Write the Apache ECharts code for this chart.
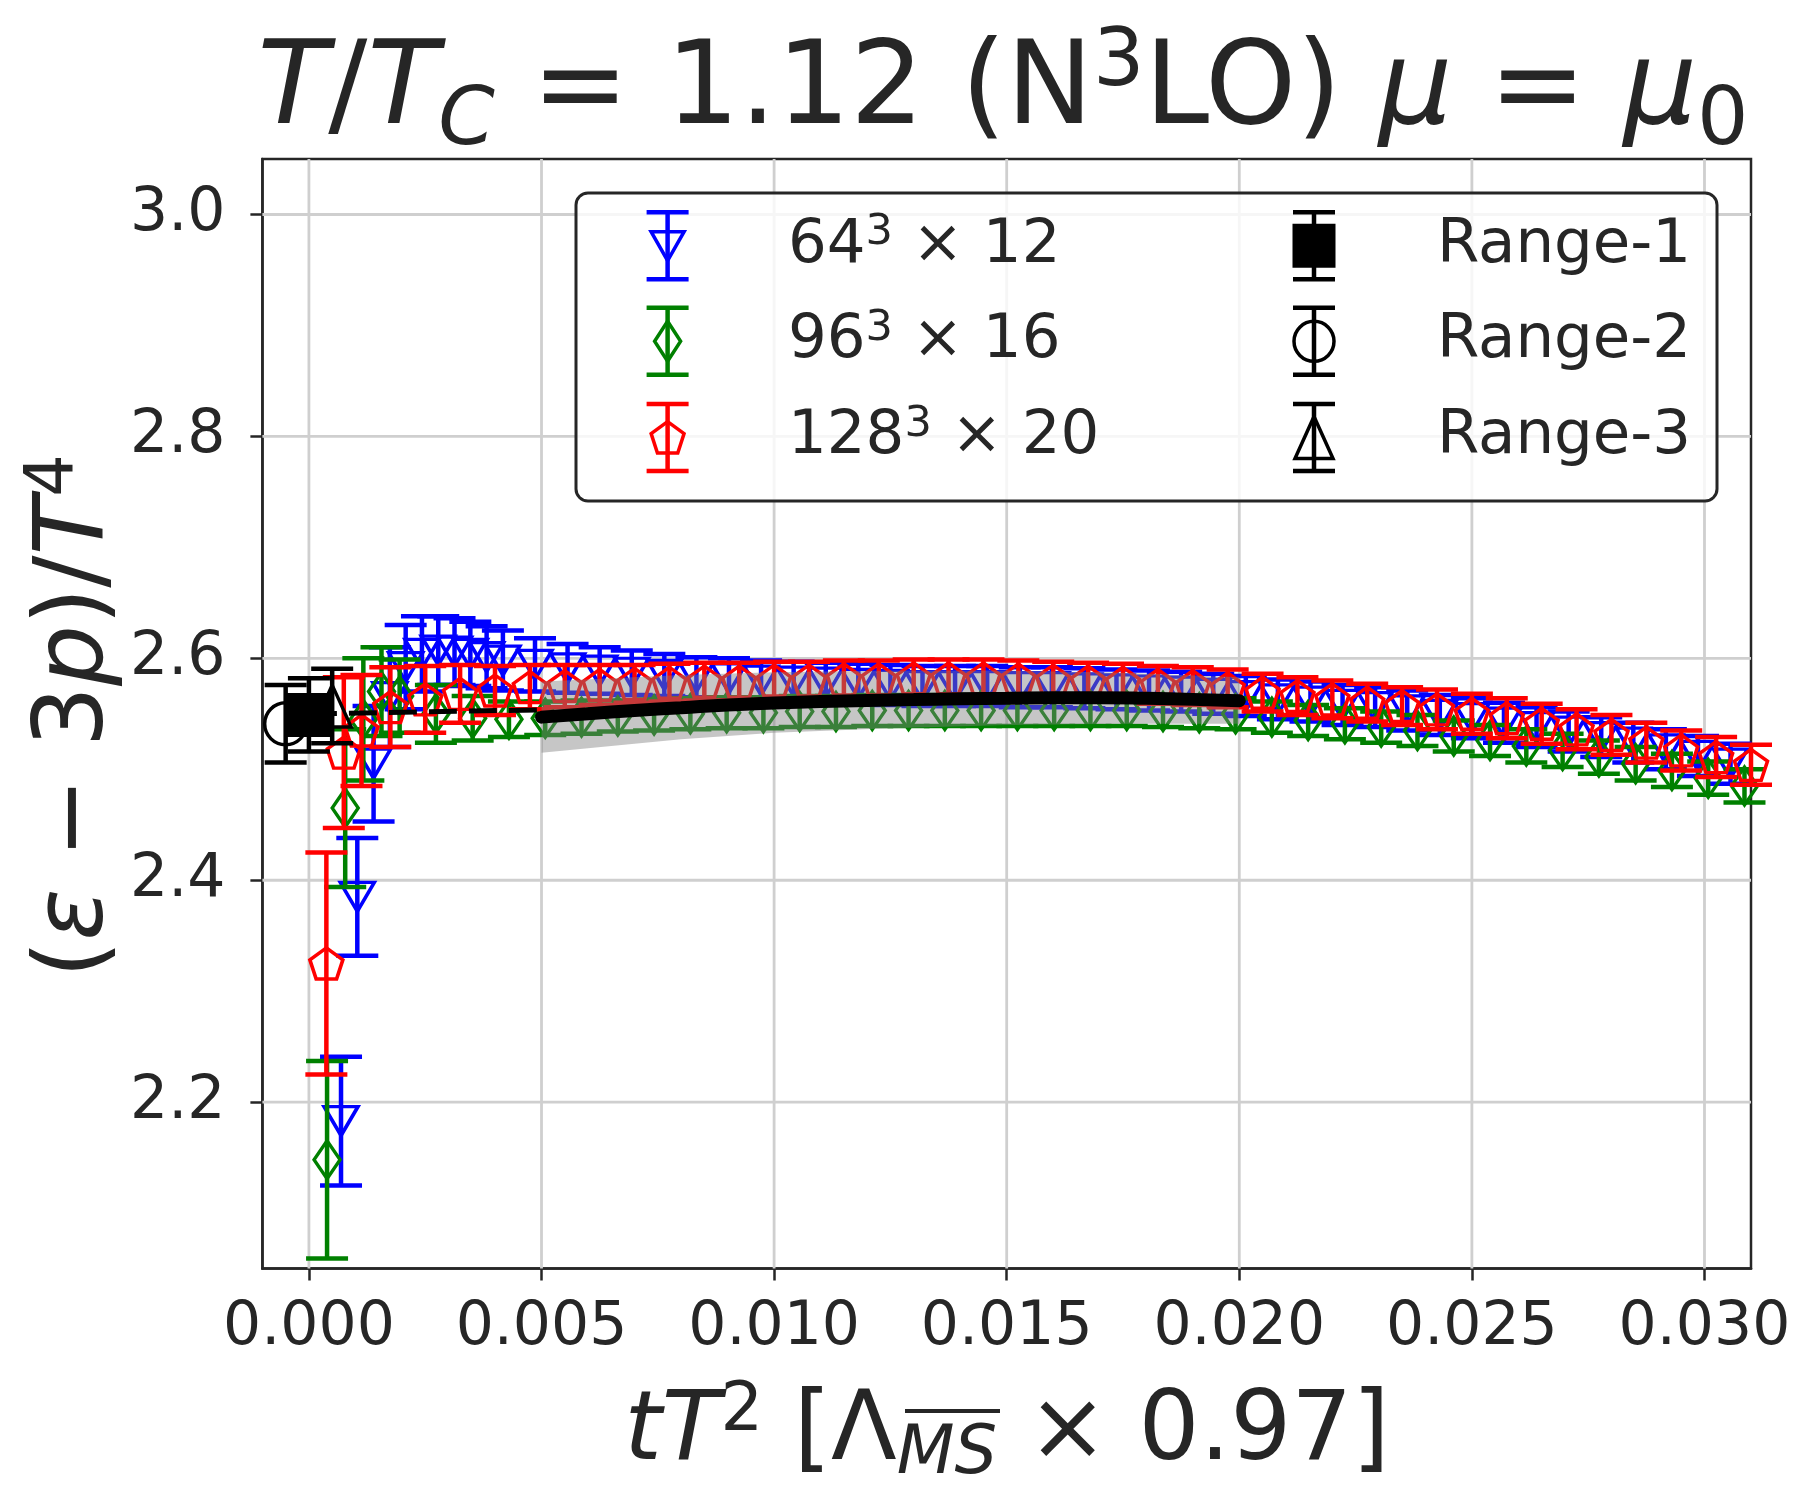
<!DOCTYPE html>
<html>
<head>
<meta charset="utf-8">
<script src="https://cdn.jsdelivr.net/npm/echarts@6/dist/echarts.min.js"></script>
<style>
  html, body { margin: 0; padding: 0; background: #fff; }
  #chart { width: 1803px; height: 1502px; }
</style>
</head>
<body>
<div id="chart"></div>
<script>
// tick labels
const xTicks = [0, 0.005, 0.01, 0.015, 0.02, 0.025, 0.03]
const yTicks = [2.2, 2.4, 2.6, 2.8, 3.0]

// 64^3 x 12
const blueX = [0.00069, 0.00104, 0.00139, 0.00174, 0.00208, 0.00243, 0.00278, 0.00313, 0.00347, 0.00382,
  0.00417, 0.00486, 0.00556, 0.00625, 0.00694, 0.00764, 0.00833, 0.00903, 0.00972, 0.01042,
  0.01111, 0.01181, 0.0125, 0.01319, 0.01389, 0.01458, 0.01528, 0.01597, 0.01667, 0.01736,
  0.01806, 0.01875, 0.01944, 0.02014, 0.02083, 0.02153, 0.02222, 0.02292, 0.02361, 0.02431,
  0.025, 0.02569, 0.02639, 0.02708, 0.02778, 0.02847, 0.02917, 0.02986, 0.03056]
const blueY = [2.183, 2.385, 2.505, 2.565, 2.592, 2.604, 2.607, 2.606, 2.604, 2.601,
  2.598, 2.594, 2.591, 2.589, 2.587, 2.585, 2.583, 2.582, 2.580, 2.579,
  2.578, 2.577, 2.576, 2.575, 2.575, 2.575, 2.574, 2.574, 2.573, 2.572,
  2.571, 2.570, 2.568, 2.566, 2.563, 2.561, 2.558, 2.556, 2.553, 2.549,
  2.546, 2.542, 2.538, 2.534, 2.529, 2.524, 2.518, 2.512, 2.505]
const blueErr = [0.058, 0.053, 0.052, 0.045, 0.038, 0.034, 0.031, 0.030, 0.029, 0.028,
  0.027, 0.024, 0.022, 0.021, 0.020, 0.019, 0.018, 0.018, 0.018, 0.018,
  0.018, 0.018, 0.018, 0.018, 0.018, 0.018, 0.018, 0.018, 0.018, 0.018,
  0.018, 0.018, 0.018, 0.018, 0.018, 0.018, 0.018, 0.018, 0.018, 0.018,
  0.018, 0.018, 0.018, 0.018, 0.018, 0.018, 0.018, 0.018, 0.018]

// 96^3 x 16
const greenX = [0.00039, 0.00078, 0.00117, 0.00156, 0.00195, 0.00273, 0.00352, 0.0043, 0.00508, 0.00586,
  0.00664, 0.00742, 0.0082, 0.00898, 0.00977, 0.01055, 0.01133, 0.01211, 0.01289, 0.01367,
  0.01445, 0.01523, 0.01602, 0.0168, 0.01758, 0.01836, 0.01914, 0.01992, 0.0207, 0.02148,
  0.02227, 0.02305, 0.02383, 0.02461, 0.02539, 0.02617, 0.02695, 0.02773, 0.02852, 0.0293,
  0.03008, 0.03086]
const greenY = [2.148, 2.465, 2.545, 2.570, 2.566, 2.550, 2.546, 2.545, 2.546, 2.547,
  2.548, 2.549, 2.550, 2.551, 2.551, 2.552, 2.552, 2.553, 2.553, 2.553,
  2.553, 2.553, 2.553, 2.553, 2.553, 2.552, 2.551, 2.550, 2.547, 2.544,
  2.541, 2.538, 2.535, 2.530, 2.526, 2.521, 2.517, 2.511, 2.505, 2.499,
  2.492, 2.485]
const greenErr = [0.089, 0.071, 0.055, 0.040, 0.033, 0.026, 0.020, 0.016, 0.015, 0.015,
  0.014, 0.014, 0.014, 0.014, 0.014, 0.014, 0.014, 0.014, 0.014, 0.014,
  0.014, 0.014, 0.014, 0.014, 0.014, 0.014, 0.014, 0.014, 0.014, 0.014,
  0.014, 0.014, 0.014, 0.014, 0.014, 0.015, 0.015, 0.015, 0.015, 0.015,
  0.015, 0.015]

// 128^3 x 20
const redX = [0.000375, 0.00075, 0.00113, 0.00175, 0.0025, 0.00325, 0.004, 0.00475, 0.0055, 0.00625,
  0.007, 0.00775, 0.0085, 0.00925, 0.01, 0.01075, 0.0115, 0.01225, 0.013, 0.01375,
  0.0145, 0.01525, 0.016, 0.01675, 0.0175, 0.01825, 0.019, 0.01975, 0.0205, 0.02125,
  0.022, 0.02275, 0.0235, 0.02425, 0.025, 0.02575, 0.0265, 0.02725, 0.028, 0.02875,
  0.0295, 0.03025, 0.031]
const redY = [2.325, 2.515, 2.535, 2.556, 2.563, 2.568, 2.571, 2.574, 2.575, 2.576,
  2.577, 2.578, 2.579, 2.579, 2.580, 2.580, 2.581, 2.581, 2.582, 2.582,
  2.582, 2.581, 2.580, 2.579, 2.578, 2.576, 2.575, 2.573, 2.569, 2.566,
  2.563, 2.560, 2.557, 2.554, 2.550, 2.546, 2.541, 2.536, 2.531, 2.524,
  2.517, 2.511, 2.504]
const redErr = [0.100, 0.068, 0.050, 0.036, 0.030, 0.026, 0.022, 0.020, 0.019, 0.018,
  0.017, 0.017, 0.017, 0.017, 0.017, 0.017, 0.017, 0.017, 0.017, 0.017,
  0.017, 0.017, 0.017, 0.017, 0.017, 0.017, 0.017, 0.017, 0.017, 0.017,
  0.017, 0.017, 0.017, 0.018, 0.018, 0.018, 0.018, 0.018, 0.018, 0.018,
  0.018, 0.018, 0.018]

// continuum values: Range-1, Range-2, Range-3
const range1 = [0.0, 2.549, 0.033]
const range2 = [-0.0005, 2.541, 0.035]
const range3 = [0.0005, 2.557, 0.0335]

// fit curve with band, and dashed extrapolation
const fitX = [0.005, 0.006, 0.007, 0.008, 0.009, 0.010, 0.011, 0.012, 0.013, 0.014, 0.015, 0.016, 0.017, 0.018, 0.019, 0.020]
const fitY = [2.547, 2.550, 2.553, 2.5555, 2.558, 2.5597, 2.561, 2.562, 2.5628, 2.5635, 2.564, 2.5645, 2.5645, 2.564, 2.563, 2.5618]
const bandX = [0.005, 0.0065, 0.008, 0.010, 0.0125, 0.015, 0.0175, 0.020]
const bandLo = [2.515, 2.521, 2.527, 2.533, 2.537, 2.540, 2.541, 2.541]
const bandHi = [2.579, 2.582, 2.585, 2.5875, 2.589, 2.589, 2.587, 2.583]
const dashX = [0.0, 0.005]
const dashY = [2.5498, 2.5536]

const X_MIN = -0.001
const X_MAX = 0.031
const Y_MIN = 2.05
const Y_MAX = 3.05

const INK = "#262626"
const FONT = "DejaVu Sans"
const CAP = 21
const PENTAGON = "path://M0,-1L0.951,-0.309L0.588,0.809L-0.588,0.809L-0.951,-0.309Z"

const chart = echarts.init(document.getElementById("chart"))

function rows(xs, ys, es) {
  return xs.map((x, i) => [x, ys[i], es[i]])
}

function errorBars(color) {
  return function (params, api) {
    const x = api.value(0)
    const y = api.value(1)
    const e = api.value(2)
    const hi = api.coord([x, y + e])
    const lo = api.coord([x, y - e])
    const style = { stroke: color, lineWidth: 4.5, fill: null }
    return {
      type: "group",
      children: [
        { type: "line", shape: { x1: hi[0], y1: hi[1], x2: lo[0], y2: lo[1] }, style },
        { type: "line", shape: { x1: hi[0] - CAP, y1: hi[1], x2: hi[0] + CAP, y2: hi[1] }, style },
        { type: "line", shape: { x1: lo[0] - CAP, y1: lo[1], x2: lo[0] + CAP, y2: lo[1] }, style }
      ]
    }
  }
}

function barSeries(data, color, z) {
  return { type: "custom", data, z, silent: true, encode: { x: 0, y: 1 }, renderItem: errorBars(color) }
}

function markerSeries(data, symbol, size, color, z, extra) {
  return Object.assign({
    type: "scatter",
    data: data.map(r => [r[0], r[1]]),
    symbol,
    symbolSize: size,
    z,
    silent: true,
    itemStyle: { color: "rgba(0,0,0,0)", borderColor: color, borderWidth: 3.5, opacity: 1 }
  }, extra || {})
}

function gridLines() {
  const data = xTicks.map(v => [v, Y_MIN, 0]).concat(yTicks.map(v => [X_MIN, v, 1]))
  return {
    type: "custom",
    z: 1,
    silent: true,
    data,
    encode: { x: 0, y: 1 },
    renderItem(params, api) {
      const vertical = api.value(2) === 0
      const a = vertical ? api.coord([api.value(0), Y_MIN]) : api.coord([X_MIN, api.value(1)])
      const b = vertical ? api.coord([api.value(0), Y_MAX]) : api.coord([X_MAX, api.value(1)])
      return { type: "line", shape: { x1: a[0], y1: a[1], x2: b[0], y2: b[1] }, style: { stroke: "#cfcfcf", lineWidth: 2.8 } }
    }
  }
}

function bandSeries() {
  return {
    type: "custom",
    z: 8,
    silent: true,
    data: [[bandX[0], bandLo[0]]],
    encode: { x: 0, y: 1 },
    renderItem(params, api) {
      const pts = []
      bandX.forEach((x, i) => pts.push(api.coord([x, bandHi[i]])))
      for (let i = bandX.length - 1; i >= 0; i--) pts.push(api.coord([bandX[i], bandLo[i]]))
      return { type: "polygon", shape: { points: pts }, style: { fill: "rgba(128,128,128,0.45)" } }
    }
  }
}

// legend drawn by hand (error bar icons)
function pentagonPoints(cx, cy, r) {
  const pts = []
  for (let k = 0; k < 5; k++) {
    const a = -Math.PI / 2 + k * 2 * Math.PI / 5
    pts.push([cx + r * Math.cos(a), cy + r * Math.sin(a)])
  }
  return pts
}

function legendBar(cx, cy, color) {
  const s = { stroke: color, lineWidth: 4.5 }
  return [
    { type: "line", z: 101, shape: { x1: cx, y1: cy - 33.5, x2: cx, y2: cy + 33.5 }, style: s },
    { type: "line", z: 101, shape: { x1: cx - CAP, y1: cy - 33.5, x2: cx + CAP, y2: cy - 33.5 }, style: s },
    { type: "line", z: 101, shape: { x1: cx - CAP, y1: cy + 33.5, x2: cx + CAP, y2: cy + 33.5 }, style: s }
  ]
}

const legendRich = {
  n: { fontFamily: FONT, fontSize: 61, lineHeight: 68, fill: INK },
  sup: { fontFamily: FONT, fontSize: 43, lineHeight: 29, verticalAlign: "top", fill: INK }
}

function legendText(x, y, text) {
  return { type: "text", z: 101, x, y, style: { text, rich: legendRich, align: "left", verticalAlign: "middle", fill: INK } }
}

const rowY = [245.7, 341.3, 437.5]
const iconL = 667.6
const iconR = 1314

const legend = [
  { type: "rect", z: 100, shape: { x: 576, y: 193, width: 1141, height: 308, r: 12 },
    style: { fill: "rgba(255,255,255,0.8)", stroke: INK, lineWidth: 3 } },
  ...legendBar(iconL, rowY[0], "#0000ff"),
  { type: "polygon", z: 102, shape: { points: [[iconL - 16.5, rowY[0] - 14], [iconL + 16.5, rowY[0] - 14], [iconL, rowY[0] + 15]] },
    style: { fill: null, stroke: "#0000ff", lineWidth: 3.5 } },
  ...legendBar(iconL, rowY[1], "#008000"),
  { type: "polygon", z: 102, shape: { points: [[iconL, rowY[1] - 20], [iconL + 13, rowY[1]], [iconL, rowY[1] + 20], [iconL - 13, rowY[1]]] },
    style: { fill: null, stroke: "#008000", lineWidth: 3.5 } },
  ...legendBar(iconL, rowY[2], "#ff0000"),
  { type: "polygon", z: 102, shape: { points: pentagonPoints(iconL, rowY[2] + 1.5, 17.3) },
    style: { fill: null, stroke: "#ff0000", lineWidth: 3.5 } },
  ...legendBar(iconR, rowY[0], "#000000"),
  { type: "rect", z: 102, shape: { x: iconR - 21.5, y: rowY[0] - 22, width: 43, height: 44 }, style: { fill: "#000000" } },
  ...legendBar(iconR, rowY[1], "#000000"),
  { type: "circle", z: 102, shape: { cx: iconR, cy: rowY[1], r: 20 }, style: { fill: null, stroke: "#000000", lineWidth: 3.5 } },
  ...legendBar(iconR, rowY[2], "#000000"),
  { type: "polygon", z: 102, shape: { points: [[iconR, rowY[2] - 21], [iconR + 19, rowY[2] + 21], [iconR - 19, rowY[2] + 21]] },
    style: { fill: null, stroke: "#000000", lineWidth: 3.5 } },
  legendText(788, rowY[0], "{n|64}{sup|3}{n| \u00d7 12}"),
  legendText(788, rowY[1], "{n|96}{sup|3}{n| \u00d7 16}"),
  legendText(788, rowY[2], "{n|128}{sup|3}{n| \u00d7 20}"),
  legendText(1437, rowY[0], "{n|Range-1}"),
  legendText(1437, rowY[1], "{n|Range-2}"),
  legendText(1437, rowY[2], "{n|Range-3}")
]

const titleRich = {
  n: { fontFamily: FONT, fontSize: 116, lineHeight: 140, fill: INK },
  it: { fontFamily: FONT, fontStyle: "italic", fontSize: 116, lineHeight: 140, fill: INK },
  subI: { fontFamily: FONT, fontStyle: "italic", fontSize: 81, lineHeight: 92, verticalAlign: "bottom", fill: INK },
  sub: { fontFamily: FONT, fontSize: 81, lineHeight: 92, verticalAlign: "bottom", fill: INK },
  sup: { fontFamily: FONT, fontSize: 81, lineHeight: 80, verticalAlign: "top", fill: INK }
}

const labelRich = {
  n: { fontFamily: FONT, fontSize: 96, lineHeight: 110, fill: INK },
  it: { fontFamily: FONT, fontStyle: "italic", fontSize: 96, lineHeight: 110, fill: INK },
  subI: { fontFamily: FONT, fontStyle: "italic", fontSize: 67, lineHeight: 59, verticalAlign: "bottom", fill: INK },
  sup: { fontFamily: FONT, fontSize: 67, lineHeight: 51, verticalAlign: "top", fill: INK }
}

const texts = [
  { type: "text", z: 100, x: 1003, y: 93,
    style: { text: "{it|T}{n|/}{it|T}{subI|C}{n| = 1.12 (N}{sup|3}{n|LO) }{it|\u03bc}{n| = }{it|\u03bc}{sub|0}",
      rich: titleRich, align: "center", verticalAlign: "middle", fill: INK } },
  { type: "text", z: 100, x: 1007, y: 1434,
    style: { text: "{it|tT}{sup|2}{n| [\u039b}{subI|MS}{n| \u00d7 0.97]}",
      rich: labelRich, align: "center", verticalAlign: "middle", fill: INK } },
  // overline of the MS subscript
  { type: "line", z: 100, shape: { x1: 905, y1: 1411, x2: 1000, y2: 1411 }, style: { stroke: INK, lineWidth: 4 } },
  { type: "text", z: 100, x: 77, y: 716, rotation: Math.PI / 2,
    style: { text: "{n|(}{it|\u03b5}{n| \u2212 3}{it|p}{n|)/}{it|T}{sup|4}",
      rich: labelRich, align: "center", verticalAlign: "middle", fill: INK } }
]

const axisCommon = {
  type: "value",
  axisLine: { show: true, onZero: false, lineStyle: { color: INK, width: 2.5 } },
  splitLine: { show: false }
}

const option = {
  animation: false,
  backgroundColor: "#ffffff",
  grid: { left: 262.4, right: 52, top: 159, bottom: 233.4, show: true, borderColor: INK, borderWidth: 2.5,
    backgroundColor: "transparent", outerBoundsMode: "none" },
  xAxis: Object.assign({}, axisCommon, {
    min: X_MIN, max: X_MAX,
    axisTick: { show: true, customValues: xTicks, length: 12, lineStyle: { color: INK, width: 2.5 } },
    axisLabel: { customValues: xTicks, formatter: v => v.toFixed(3), fontFamily: FONT, fontSize: 60, color: INK, margin: 30 }
  }),
  yAxis: Object.assign({}, axisCommon, {
    min: Y_MIN, max: Y_MAX,
    axisTick: { show: true, customValues: yTicks, length: 12, lineStyle: { color: INK, width: 2.5 } },
    axisLabel: { customValues: yTicks, formatter: v => v.toFixed(1), fontFamily: FONT, fontSize: 60, color: INK, margin: 37 }
  }),
  graphic: { elements: legend.concat(texts) },
  series: [
    gridLines(),
    barSeries(rows(blueX, blueY, blueErr), "#0000ff", 2),
    markerSeries(rows(blueX, blueY, blueErr), "triangle", [34, 29], "#0000ff", 3, { symbolRotate: 180 }),
    barSeries(rows(greenX, greenY, greenErr), "#008000", 4),
    markerSeries(rows(greenX, greenY, greenErr), "diamond", [26, 38], "#008000", 5),
    barSeries(rows(redX, redY, redErr), "#ff0000", 6),
    markerSeries(rows(redX, redY, redErr), PENTAGON, [33, 31], "#ff0000", 7),
    bandSeries(),
    { type: "line", z: 9, silent: true, data: fitX.map((x, i) => [x, fitY[i]]), showSymbol: false, smooth: true,
      lineStyle: { color: "#000000", width: 13, cap: "round" } },
    { type: "line", z: 9, silent: true, data: dashX.map((x, i) => [x, dashY[i]]), showSymbol: false,
      lineStyle: { color: "#000000", width: 5, type: [28, 12] } },
    barSeries([range1, range2, range3], "#000000", 10),
    markerSeries([range1], "rect", 44, "#000000", 11, { itemStyle: { color: "#000000", opacity: 1 } }),
    markerSeries([range2], "circle", 42, "#000000", 11),
    markerSeries([range3], "triangle", [38, 42], "#000000", 11)
  ]
}

chart.setOption(option)
</script>
</body>
</html>
